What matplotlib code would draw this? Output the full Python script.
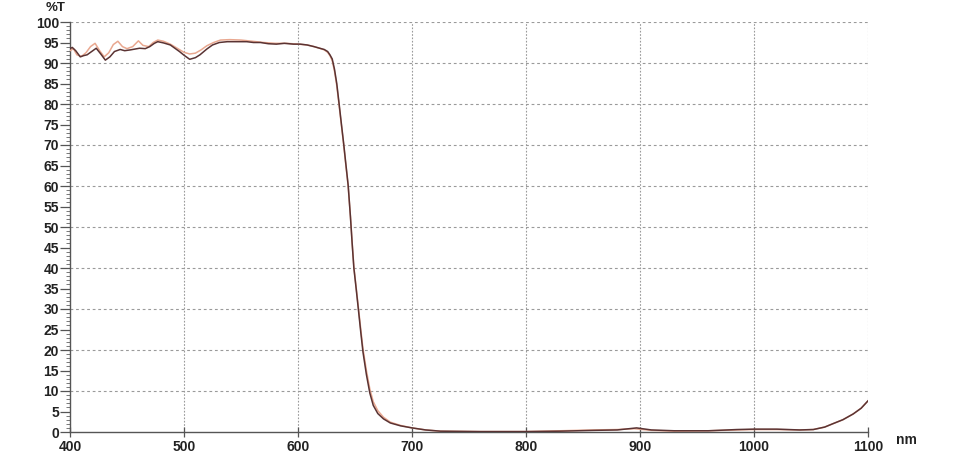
import matplotlib
matplotlib.use("Agg")
import matplotlib.pyplot as plt
from matplotlib.ticker import MultipleLocator

# Wavelength (nm) and %T for the two scans
wl_dark = [400, 402, 405, 409, 412, 415, 419, 423, 427, 431, 435, 439, 444, 448, 453, 457,
           461, 466, 470, 474, 477, 482, 488, 492, 496, 500, 505, 510, 514, 520, 525, 531,
           538, 546, 555, 561, 567, 574, 581, 588, 596, 602, 608, 614, 619, 623, 626, 628,
           630, 632, 634, 636, 638, 640, 642, 644, 646, 647.5, 649, 651, 653, 655, 657, 660,
           663, 666, 670, 675, 681, 690, 700, 712, 725, 760, 800, 830, 860, 880, 897, 910,
           930, 960, 985, 1000, 1020, 1040, 1052, 1062, 1069, 1078, 1087, 1094, 1100]
t_dark = [93.5, 93.8, 93.0, 91.5, 91.8, 92.0, 92.8, 93.6, 92.2, 90.7, 91.5, 92.8, 93.3, 93.0, 93.2, 93.4,
          93.6, 93.5, 94.0, 94.8, 95.2, 94.9, 94.4, 93.6, 92.8, 91.9, 90.9, 91.3, 92.0, 93.4, 94.4, 95.0,
          95.2, 95.2, 95.2, 95.0, 95.0, 94.7, 94.6, 94.8, 94.6, 94.6, 94.4, 94.0, 93.6, 93.3, 92.8, 92.0,
          91.0, 88.5, 85.0, 80.2, 75.3, 70.5, 65.3, 60.2, 52.5, 46.0, 40.0, 35.0, 29.8, 24.5, 19.5, 14.0,
          9.5, 6.5, 4.5, 3.2, 2.2, 1.5, 1.0, 0.5, 0.2, 0.1, 0.1, 0.2, 0.4, 0.5, 1.0, 0.5,
          0.3, 0.3, 0.6, 0.7, 0.7, 0.5, 0.6, 1.2, 2.0, 3.0, 4.4, 5.8, 7.6]

wl_light = [400, 403, 406, 410, 414, 418, 422, 426, 430, 434, 438, 442, 446, 450, 455, 460,
            464, 469, 473, 477, 482, 488, 494, 500, 505, 510, 515, 520, 526, 532, 540, 550,
            560, 570, 580, 590, 600, 608, 614, 619, 623, 626, 628, 630, 632, 634, 636, 638,
            640, 642, 644, 646, 647.5, 649, 651, 653, 655, 657, 660, 663, 666, 670, 675, 681,
            690, 700, 712, 725, 760, 800, 830, 860, 880, 895, 910, 930, 960, 985, 1000, 1020,
            1040, 1052, 1062, 1069, 1078, 1087, 1094, 1100]
t_light = [93.0, 93.5, 92.0, 91.6, 92.5, 94.0, 94.8, 93.0, 91.5, 92.5, 94.5, 95.3, 94.0, 93.5, 94.0, 95.4,
           94.3, 94.0, 95.0, 95.6, 95.3, 94.6, 93.6, 92.6, 92.2, 92.4, 93.2, 94.2, 95.0, 95.6, 95.7, 95.6,
           95.3, 95.0, 94.8, 94.8, 94.6, 94.4, 94.0, 93.6, 93.2, 92.6, 91.8, 90.6, 88.0, 84.5, 79.8, 75.0,
           70.2, 65.0, 60.0, 52.5, 46.2, 40.3, 35.3, 30.3, 25.2, 20.3, 15.0, 10.5, 7.4, 5.2, 3.6, 2.4,
           1.6, 1.0, 0.5, 0.2, 0.1, 0.1, 0.3, 0.5, 0.6, 0.8, 0.4, 0.2, 0.3, 0.5, 0.6, 0.6,
           0.5, 0.6, 1.2, 2.0, 3.0, 4.4, 5.8, 7.6]

x_ticks = [400, 500, 600, 700, 800, 900, 1000, 1100]
y_ticks = list(range(0, 101, 5))

plt.rcParams['font.family'] = ['Liberation Sans', 'DejaVu Sans']

fig = plt.figure(figsize=(9.79, 4.72), dpi=100)
ax = fig.add_axes([70/979, 1-432/472, (868-70)/979, (432-22)/472])

# grid
for gx in x_ticks[1:]:
    ax.axvline(gx, color='#9a9a9a', lw=0.8, ls=(0, (1.5, 1.5)), zorder=1)
for gy in range(10, 101, 10):
    ax.axhline(gy, color='#9a9a9a', lw=0.8, ls=(0, (2.5, 2.5)), zorder=1)

ax.plot(wl_light, t_light, color='#e9a890', lw=1.1, zorder=3)
ax.plot(wl_dark, t_dark, color='#5a3333', lw=1.1, zorder=4)

ax.set_xlim(400, 1100)
ax.set_ylim(0, 100)
ax.set_xticks(x_ticks)
ax.set_yticks(y_ticks)
ax.yaxis.set_minor_locator(MultipleLocator(1))
ax.set_xticklabels([str(v) for v in x_ticks], fontsize=10, fontweight='bold', color='#222222')
ax.set_yticklabels([str(v) for v in y_ticks], fontsize=10, fontweight='bold', color='#222222')

for s in ['top', 'right']:
    ax.spines[s].set_visible(False)
ax.spines['left'].set_color('#555555')
ax.spines['bottom'].set_color('#555555')
ax.spines['left'].set_linewidth(1.0)
ax.spines['bottom'].set_linewidth(1.0)
ax.tick_params(axis='y', which='major', length=7, width=0.9, color='#555555', pad=1)
ax.tick_params(axis='y', which='minor', length=3, width=0.7, color='#777777')
ax.tick_params(axis='x', which='major', direction='inout', length=7, width=0.9, color='#555555', pad=2)

fig.text(46/979, 1-8/472, '%T', fontsize=9.5, fontweight='bold', ha='left', va='center', color='#222222')
fig.text(896/979, 1-440/472, 'nm', fontsize=10, fontweight='bold', ha='left', va='center', color='#222222')

fig.savefig('out.png', dpi=100)
